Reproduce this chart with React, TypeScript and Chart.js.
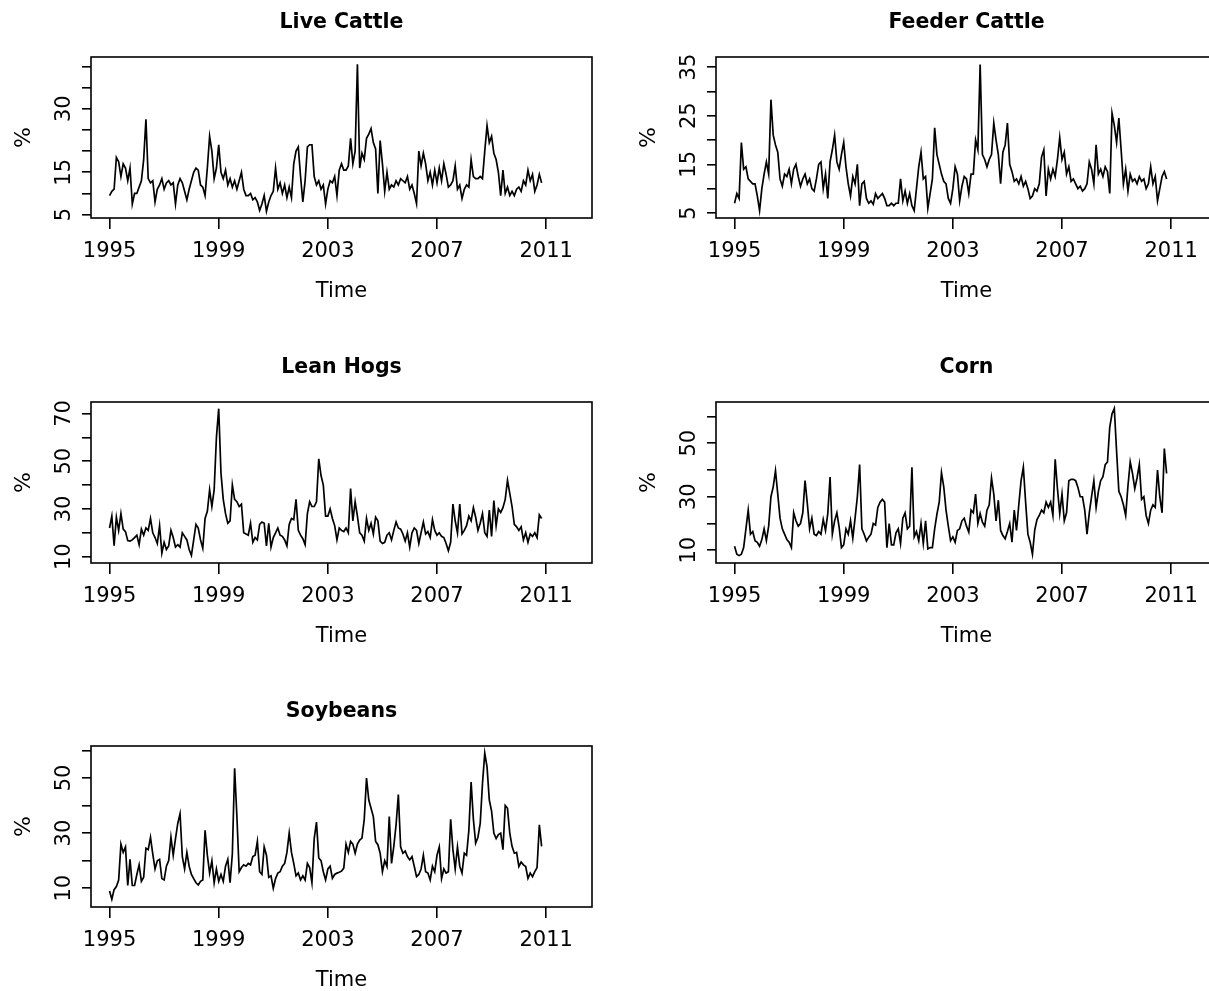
import React, { useEffect, useRef } from 'react';
import { Chart, registerables } from 'chart.js';

Chart.register(...registerables);

// ---------------- data (monthly readings, Jan 1995 .. Nov 2010) ----------------
const START_YEAR = 1995;
const PERIODS_PER_YEAR = 12;

const xTickYears = [1995, 1999, 2003, 2007, 2011];
const xAxisMin = 1994.32;
const xAxisMax = 2012.68;

const liveCattle = [
  9.5, 10.5, 11, 18.5, 17.5, 14, 17, 16, 13, 16, 7.5, 10,
  10, 11.5, 13, 18, 27.5, 13.5, 12.5, 13, 8, 11, 12, 13.5,
  11, 12.5, 13, 12, 12.5, 7.5, 12, 13.5, 12.5, 10.5, 8.5, 11,
  13, 15, 16, 15.5, 12, 11.5, 9.5, 16, 23.5, 20, 13.5, 16,
  21.5, 15, 13.5, 15.5, 12, 13.5, 11.5, 13, 11, 13, 15, 11,
  9.5, 9.5, 10, 8.5, 9, 8, 6, 7.5, 9.5, 5.8, 8, 9.5,
  10.5, 16, 11, 12.5, 10, 12, 9, 11.5, 9, 17, 20, 21,
  14, 8, 13, 21, 21.5, 21.5, 14, 12, 13, 11, 12, 7.5,
  11, 13, 12.5, 14, 9.5, 15.5, 17, 15.5, 15.5, 16.5, 23, 17,
  20, 40.5, 16, 19.5, 18, 23, 24, 25.3, 22, 20.5, 10, 22.5,
  17, 10.5, 15, 11, 12, 11.5, 13, 12, 13.5, 13, 12.5, 14,
  11, 12, 10, 7.6, 20, 16.5, 19.5, 17, 13, 15, 12, 15.5,
  12.5, 16, 13, 17, 14.5, 11.5, 12, 13, 16.5, 11, 12, 8.8,
  11, 12, 11.5, 18, 14, 13.5, 13.5, 14, 13.5, 20, 26, 22,
  23.5, 19.5, 18, 15, 9.5, 15.5, 10, 11.5, 9.5, 10.5, 9.5, 11,
  11.5, 10.5, 13, 12, 15.5, 13, 14.5, 10.5, 12, 14.5, 12.5,
];

const feederCattle = [
  7, 9, 8, 19.5, 14, 14.5, 12, 11.5, 11, 11, 8.5, 5.5,
  10, 13, 15.5, 13, 28.3, 21, 19, 17.5, 12, 10.5, 13, 12.5,
  14, 11, 14, 15, 12.5, 10.5, 12, 13, 11, 12, 10, 9.5,
  12, 15, 15.5, 10, 13, 8, 15.5, 18, 21, 15.5, 14, 17,
  19.5, 14.5, 11, 8.5, 12.5, 11, 15, 6.5, 11, 11.5, 8, 7,
  7.5, 6.8, 9, 8, 8.5, 9, 8, 6.5, 6.5, 7, 6.5, 7,
  7, 12, 7.5, 9.5, 7, 9, 6.5, 5.5, 10, 14.5, 17.5, 12,
  12.5, 6, 9, 12, 22.5, 17, 15, 13, 11.5, 11, 8, 7,
  10, 14.5, 13, 7.5, 10.5, 12.5, 12, 9, 13, 13, 20, 18,
  35.5, 17, 16, 14.5, 16, 17, 23.5, 20, 17, 11, 17.5, 19,
  23.5, 15, 13.5, 11.5, 12, 11, 12.5, 10.5, 11.5, 10, 8, 8.5,
  10, 9.5, 11, 16.5, 18, 8.5, 14, 12, 14, 12.5, 16, 20.5,
  16, 17.5, 13, 14.5, 11.5, 12, 11, 10, 10.5, 9.5, 10, 11,
  15.5, 14, 11, 19, 13, 14, 12.5, 14.5, 13.5, 9, 25.5, 23,
  19.5, 24.5, 18, 11, 14, 9.5, 13, 11.5, 12, 11, 12.5, 11.5,
  12, 10, 11, 14.5, 11, 12.5, 7.5, 10, 12.5, 13.5, 12,
];

const leanHogs = [
  22, 27, 14.6, 26.5, 21, 28, 21.5, 20.5, 16.7, 16.5, 17, 18,
  19, 15, 21.5, 19, 22, 21, 26, 20, 18, 15.5, 23, 11.5,
  16, 13, 14.5, 21, 18, 14, 15, 14, 20, 18.5, 17, 13,
  10.5, 17, 23.5, 22, 17, 13.5, 26, 29, 38, 31, 38, 60,
  72, 45, 34, 28, 24, 25, 40, 34, 33, 31, 32, 20,
  19.5, 19, 24, 16, 18, 17, 23.5, 24.5, 24, 14.5, 24, 14,
  18, 20, 22, 19, 18.5, 17, 14.5, 23.5, 26, 25.5, 34, 21,
  19, 17.5, 15, 28, 33, 31, 31, 33, 51, 44, 40, 27,
  27, 30, 26, 23, 17, 22, 21, 20.5, 22, 20, 38.5, 25,
  33, 27, 20, 19, 16.5, 26, 21, 24, 19.5, 26.5, 25, 16.5,
  15.5, 16, 19, 20, 17, 21, 24.5, 22, 21.5, 19.5, 16.5, 20,
  14, 20, 22, 21, 15.5, 20, 24.5, 19.5, 20.5, 18, 25.5, 21,
  19, 20, 18.5, 18, 15.5, 12.5, 16, 32, 25, 20, 32, 19.5,
  21, 23, 27, 25, 30.5, 26.5, 21, 24, 28, 20, 18.5, 29.5,
  18.5, 33.5, 23, 30, 28.5, 30.5, 34, 42, 36.5, 31, 23.5, 22.5,
  21, 22.5, 17, 20, 16, 19.5, 18.5, 20, 18, 27.5, 26,
];

const corn = [
  11.5, 8.5, 8, 8.5, 11, 18, 25, 16, 17, 13.6, 13, 11.5,
  14, 18, 13.6, 19, 30, 33.7, 39.7, 31, 22, 18, 16, 14,
  13, 11, 24, 21, 19, 20, 24, 36, 27.4, 18, 22, 16,
  15.5, 17, 16, 21.5, 17.4, 23.7, 37.4, 16, 21, 24, 18.6, 11,
  12, 18, 16, 21, 14.5, 22, 30, 42, 18, 16, 13.5, 14.9,
  16, 20, 19.4, 26, 28, 29, 28, 11, 20, 12, 12, 16.5,
  18, 12.5, 22, 24, 18, 19, 41, 15, 17, 13.6, 20, 12.5,
  21, 10.5, 11, 11, 18, 23.5, 28, 39, 33.7, 25, 19, 13.6,
  15, 13, 17.4, 18, 21, 22, 19, 16.8, 25, 24, 31, 20,
  23.7, 20.5, 19, 25, 27, 37, 31, 21, 28.7, 17.4, 15.5, 14.3,
  17, 20, 13, 25, 17.4, 27, 36, 41, 28, 16, 13, 8.5,
  17.5, 21.5, 23, 25, 24, 28, 26, 28, 23, 44, 33, 23.7,
  31, 21, 24, 36, 36.5, 36.5, 36, 33.5, 30, 30, 25, 16,
  24, 30, 36, 26, 32, 36, 37.5, 42, 43, 56, 61, 63,
  47, 32, 30, 27, 23, 34, 43, 38.7, 33, 37, 42, 29,
  30, 23, 20, 25, 27, 26, 40, 30, 24, 48, 38.7,
];

const soybeans = [
  9, 6, 9.5, 10.6, 13, 26, 23, 25, 11, 20.5, 11, 11,
  15, 18.5, 12.5, 14, 24.5, 24, 28.5, 22.5, 17, 20, 20.5, 13.5,
  13, 18, 20, 28.5, 22, 28, 33.5, 37, 21.5, 17, 23, 18,
  15, 13.5, 12, 11.2, 12.5, 13, 31, 22, 15.5, 20, 12, 17,
  12.5, 15, 12.5, 18, 20.5, 12, 22.5, 53.5, 36, 16, 17.5, 18.5,
  18, 19, 18.5, 21.5, 22, 27, 16, 15, 25, 22, 14, 14.5,
  10, 13.5, 15.5, 16, 18, 19, 23, 30, 23, 19, 14.5, 15.5,
  13, 14.5, 13, 19, 17.5, 12, 28, 34, 21, 20, 16, 13,
  17, 18, 13.6, 15, 15.5, 15.8, 16.2, 17.3, 26, 23, 27, 26,
  22.7, 26, 27.5, 28.2, 35, 50, 42, 39, 36, 27, 25.8, 22.7,
  16, 20, 17.9, 36, 19, 25.2, 33, 44, 25, 22.7, 23.5, 21.5,
  20.3, 21.5, 18, 14.2, 15, 17, 22, 16, 15.5, 13, 18, 16,
  22, 25, 13.5, 17, 15.5, 16, 35, 24, 17, 25, 18, 15.5,
  22.7, 22, 31, 48.5, 35, 26.4, 28.5, 33.5, 48, 59, 54, 42,
  38, 30, 28, 29.5, 30, 24, 40, 39, 30, 25.2, 22.7, 23,
  17.9, 19.5, 18.5, 17.9, 13.6, 15.5, 14.2, 16, 17.5, 33, 25.2,
];

// y-axis ticks and labelled ticks per panel
const liveCattleTicks = [5, 10, 15, 20, 25, 30, 35, 40];
const liveCattleLabels = [5, 15, 30];
const feederCattleTicks = [5, 10, 15, 20, 25, 30, 35];
const feederCattleLabels = [5, 15, 25, 35];
const leanHogsTicks = [10, 20, 30, 40, 50, 60, 70];
const leanHogsLabels = [10, 30, 50, 70];
const cornTicks = [10, 20, 30, 40, 50, 60];
const cornLabels = [10, 30, 50];
const soybeansTicks = [10, 20, 30, 40, 50, 60];
const soybeansLabels = [10, 30, 50];

// ---------------- layout ----------------
const FONT = '"DejaVu Sans", "Liberation Sans", sans-serif';
const CELL_W = 624.7;
const CELL_H = 344.7;
const CANVAS_W = 625;
const CANVAS_H = 345;
const PLOT_LEFT = 91;
const PLOT_RIGHT = 592;
const PLOT_TOP = 57;
const PLOT_BOTTOM = 218;

type Panel = {
  title: string;
  values: number[];
  yMin: number;
  yMax: number;
  yTicks: number[];
  yLabels: number[];
};

const panels: Panel[] = [
  { title: 'Live Cattle', values: liveCattle, yMin: 4.21, yMax: 42.2, yTicks: liveCattleTicks, yLabels: liveCattleLabels },
  { title: 'Feeder Cattle', values: feederCattle, yMin: 3.97, yMax: 37.07, yTicks: feederCattleTicks, yLabels: feederCattleLabels },
  { title: 'Lean Hogs', values: leanHogs, yMin: 7.33, yMax: 74.8, yTicks: leanHogsTicks, yLabels: leanHogsLabels },
  { title: 'Corn', values: corn, yMin: 5.24, yMax: 65.4, yTicks: cornTicks, yLabels: cornLabels },
  { title: 'Soybeans', values: soybeans, yMin: 3.2, yMax: 61.6, yTicks: soybeansTicks, yLabels: soybeansLabels },
];

const framePlugin = {
  id: 'frame',
  afterDraw(chart: any, _args: any, opts: any) {
    const { ctx, chartArea } = chart;
    const { left, top, right, bottom } = chartArea;
    ctx.save();
    ctx.strokeStyle = '#000';
    ctx.lineWidth = 1.6;
    ctx.strokeRect(left, top, right - left, bottom - top);
    if (opts && opts.title) {
      ctx.font = `bold 20.5px ${FONT}`;
      ctx.fillStyle = '#000';
      ctx.textAlign = 'center';
      ctx.textBaseline = 'alphabetic';
      ctx.fillText(opts.title, (left + right) / 2, 27.5);
    }
    ctx.restore();
  },
};

function buildConfig(panel: Panel): any {
  const points = panel.values.map((v, i) => ({ x: START_YEAR + i / PERIODS_PER_YEAR, y: v }));
  const tickFont = { size: 21, family: FONT };
  const titleFont = { size: 21, family: FONT };
  return {
    type: 'line',
    data: {
      datasets: [
        {
          data: points,
          borderColor: '#000',
          borderWidth: 1.7,
          pointRadius: 0,
          fill: false,
          tension: 0,
        },
      ],
    },
    options: {
      responsive: false,
      animation: false,
      events: [],
      layout: {
        autoPadding: false,
        padding: { top: PLOT_TOP, right: CANVAS_W - PLOT_RIGHT, left: 0, bottom: 0 },
      },
      plugins: {
        legend: { display: false },
        tooltip: { enabled: false },
        title: { display: false },
        frame: { title: panel.title },
      },
      scales: {
        x: {
          type: 'linear',
          min: xAxisMin,
          max: xAxisMax,
          afterBuildTicks: (s: any) => {
            s.ticks = xTickYears.map((v) => ({ value: v }));
          },
          afterFit: (s: any) => {
            s.height = CANVAS_H - PLOT_BOTTOM;
            s.paddingLeft = 0;
            s.paddingRight = 0;
            s.paddingTop = 0;
            s.paddingBottom = 0;
          },
          grid: {
            drawOnChartArea: false,
            drawTicks: true,
            tickLength: 11,
            color: '#000',
            lineWidth: 1.6,
          },
          border: { display: false },
          ticks: {
            autoSkip: false,
            minRotation: 0,
            maxRotation: 0,
            padding: 10,
            color: '#000',
            font: tickFont,
            callback: (v: any) => String(v),
          },
          title: {
            display: true,
            text: 'Time',
            color: '#000',
            font: titleFont,
            padding: { top: 0, bottom: 41 },
          },
        },
        y: {
          type: 'linear',
          min: panel.yMin,
          max: panel.yMax,
          afterBuildTicks: (s: any) => {
            s.ticks = panel.yTicks.map((v) => ({ value: v }));
          },
          afterFit: (s: any) => {
            s.width = PLOT_LEFT;
            s.paddingLeft = 0;
            s.paddingRight = 0;
            s.paddingTop = 0;
            s.paddingBottom = 0;
          },
          grid: {
            drawOnChartArea: false,
            drawTicks: true,
            tickLength: 9,
            color: '#000',
            lineWidth: 1.6,
          },
          border: { display: false },
          ticks: {
            autoSkip: false,
            minRotation: 90,
            maxRotation: 90,
            crossAlign: 'center',
            padding: 4,
            color: '#000',
            font: tickFont,
            callback: (v: any) => (panel.yLabels.includes(v) ? String(v) : ''),
          },
          title: {
            display: true,
            text: '%',
            color: '#000',
            font: { size: 22, family: FONT },
            padding: { top: 11.5, bottom: 0 },
          },
        },
      },
    },
    plugins: [framePlugin],
  };
}

function PanelChart({ panel, left, top }: { panel: Panel; left: number; top: number }) {
  const ref = useRef<HTMLCanvasElement | null>(null);
  useEffect(() => {
    if (!ref.current) return;
    const chart = new Chart(ref.current, buildConfig(panel));
    return () => chart.destroy();
  }, [panel]);
  return (
    <canvas
      ref={ref}
      width={CANVAS_W}
      height={CANVAS_H}
      style={{ position: 'absolute', left, top, width: CANVAS_W, height: CANVAS_H }}
    />
  );
}

export default function App() {
  return (
    <div
      style={{
        position: 'absolute',
        left: 0,
        top: 0,
        width: 1209,
        height: 991,
        overflow: 'hidden',
        background: '#fff',
      }}
    >
      {panels.map((p, i) => (
        <PanelChart
          key={p.title}
          panel={p}
          left={Math.round((i % 2) * CELL_W)}
          top={Math.round(Math.floor(i / 2) * CELL_H)}
        />
      ))}
    </div>
  );
}
